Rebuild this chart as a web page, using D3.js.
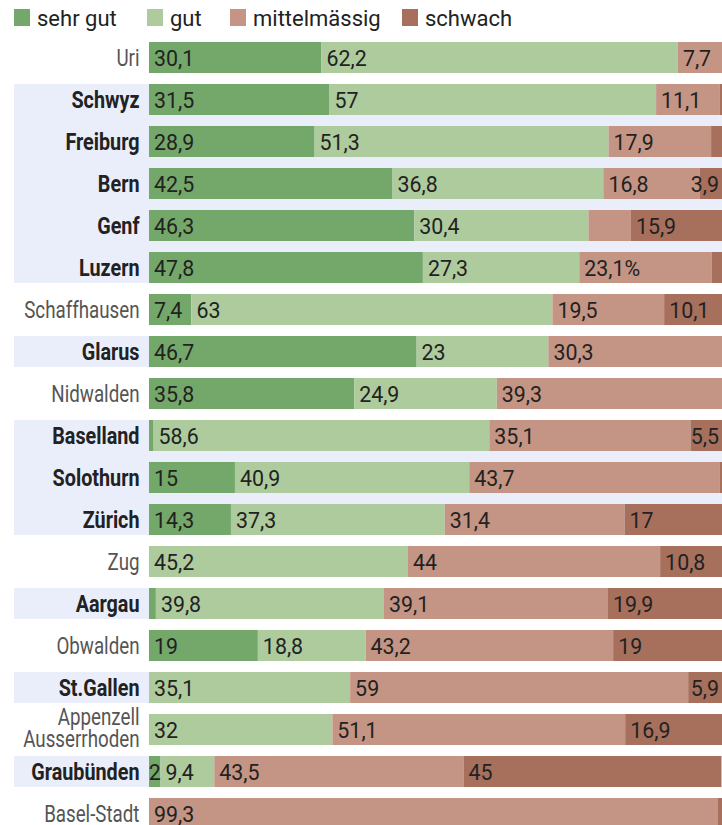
<!DOCTYPE html>
<html><head><meta charset="utf-8">
<script src="https://cdn.jsdelivr.net/npm/d3@7"></script>
<style>body{margin:0;background:#fff}svg{display:block}</style>
</head><body><svg id="c" width="722" height="825"></svg>
<script>
// ---- data ----
const cantons = ["Uri","Schwyz","Freiburg","Bern","Genf","Luzern","Schaffhausen","Glarus","Nidwalden","Baselland","Solothurn","Zürich","Zug","Aargau","Obwalden","St.Gallen","Appenzell Ausserrhoden","Graubünden","Basel-Stadt"];
const highlighted = ["Schwyz","Freiburg","Bern","Genf","Luzern","Glarus","Baselland","Solothurn","Zürich","Aargau","St.Gallen","Graubünden"];
const sehrGut = [30.1,31.5,28.9,42.5,46.3,47.8,7.4,46.7,35.8,0.8,15,14.3,0,1.2,19,0,0,2,0];
const gut     = [62.2,57,51.3,36.8,30.4,27.3,63,23,24.9,58.6,40.9,37.3,45.2,39.8,18.8,35.1,32,9.4,0];
const mittel  = [7.7,11.1,17.9,16.8,7.4,23.1,19.5,30.3,39.3,35.1,43.7,31.4,44,39.1,43.2,59,51.1,43.5,99.3];
const schwach = [0,0.4,1.9,3.9,15.9,1.8,10.1,0,0,5.5,0.4,17,10.8,19.9,19,5.9,16.9,45,0.7];
const seriesNames = ["sehr gut","gut","mittelmässig","schwach"];
const colors = ["#74a86a","#aecb9e","#c49584","#a7705c"];
const labelOverrides = {"Genf|mittelmässig": "", "Luzern|mittelmässig": "23,1%"};
const minLabelValue = 2;

// ---- layout ----
const W = 722;
const legendX = [14,147,230,402];
const numScale = 0.93, nameScale = 0.815, boldScale = 0.86;
const font = "Roboto, 'Noto Sans', sans-serif";

const svg = d3.select("#c");
const x = d3.scaleLinear().domain([0,100]).range([149, W]);
const y = d3.scaleBand().domain(cantons).range([42, 829]).paddingInner(11/42).paddingOuter(0);
const color = d3.scaleOrdinal().domain(seriesNames).range(colors);
const bw = y.bandwidth(), gap = y.step() - bw;

const rows = cantons.map((c,i) => ({canton:c, "sehr gut":sehrGut[i], "gut":gut[i], "mittelmässig":mittel[i], "schwach":schwach[i]}));
const stacked = d3.stack().keys(seriesNames)(rows);

// highlight bands
svg.append("g").selectAll("rect")
  .data(cantons.filter(c => highlighted.includes(c)))
  .join("rect")
  .attr("x", 14).attr("width", W - 14)
  .attr("y", c => y(c))
  .attr("height", c => {
    const i = cantons.indexOf(c);
    const next = cantons[i+1];
    return bw + (next && highlighted.includes(next) ? gap : 0);
  })
  .attr("fill", "#e9eefa");

// bars
svg.append("g").selectAll("g").data(stacked).join("g")
  .attr("fill", s => color(s.key))
  .selectAll("rect").data(s => s).join("rect")
  .attr("x", d => x(d[0]))
  .attr("width", d => Math.max(0, x(d[1]) - x(d[0])))
  .attr("y", d => y(d.data.canton))
  .attr("height", bw);

// value labels
const fmt = v => String(v).replace(".", ",");
const lg = svg.append("g").attr("font-family", font).attr("font-size", 23).attr("fill", "#222");
stacked.forEach(s => {
  s.forEach(d => {
    const v = d[1] - d[0];
    const key = d.data.canton + "|" + s.key;
    let txt;
    if (key in labelOverrides) txt = labelOverrides[key];
    else txt = v >= minLabelValue ? fmt(d.data[s.key]) : "";
    if (!txt) return;
    const t = lg.append("text").text(txt);
    const w = t.node().getComputedTextLength() * numScale;
    const x0 = x(d[0]), x1 = x(d[1]), pad = 5;
    let tx;
    if (w + 2*pad <= x1 - x0) tx = x0 + pad;
    else tx = (x0 + x1)/2 - w/2;
    if (tx + w > W - 3) tx = W - 3 - w;
    const cy = y(d.data.canton) + bw/2;
    t.attr("transform", `translate(${tx},${cy + 8.5}) scale(${numScale},1)`);
  });
});

// canton names
const ng = svg.append("g").attr("font-family", font).attr("font-size", 23);
cantons.forEach(c => {
  const bold = highlighted.includes(c);
  const cy = y(c) + bw/2;
  const parts = c.split(" ");
  parts.forEach((p, k) => {
    const dy = parts.length === 1 ? 8.5 : (k === 0 ? -4.5 : 17.5);
    ng.append("text").text(p)
      .attr("text-anchor", "end")
      .attr("font-weight", bold ? 700 : 400)
      .attr("fill", bold ? "#222" : "#555")
      .attr("transform", `translate(139.5,${cy + dy}) scale(${bold ? boldScale : nameScale},1)`);
  });
});

// legend
const leg = svg.append("g").attr("font-family", font).attr("font-size", 22).attr("fill", "#222");
seriesNames.forEach((n, i) => {
  leg.append("rect").attr("x", legendX[i]).attr("y", 9).attr("width", 16).attr("height", 17).attr("fill", color(n));
  leg.append("text").attr("x", legendX[i] + 23).attr("y", 26).text(n);
});
</script></body></html>
